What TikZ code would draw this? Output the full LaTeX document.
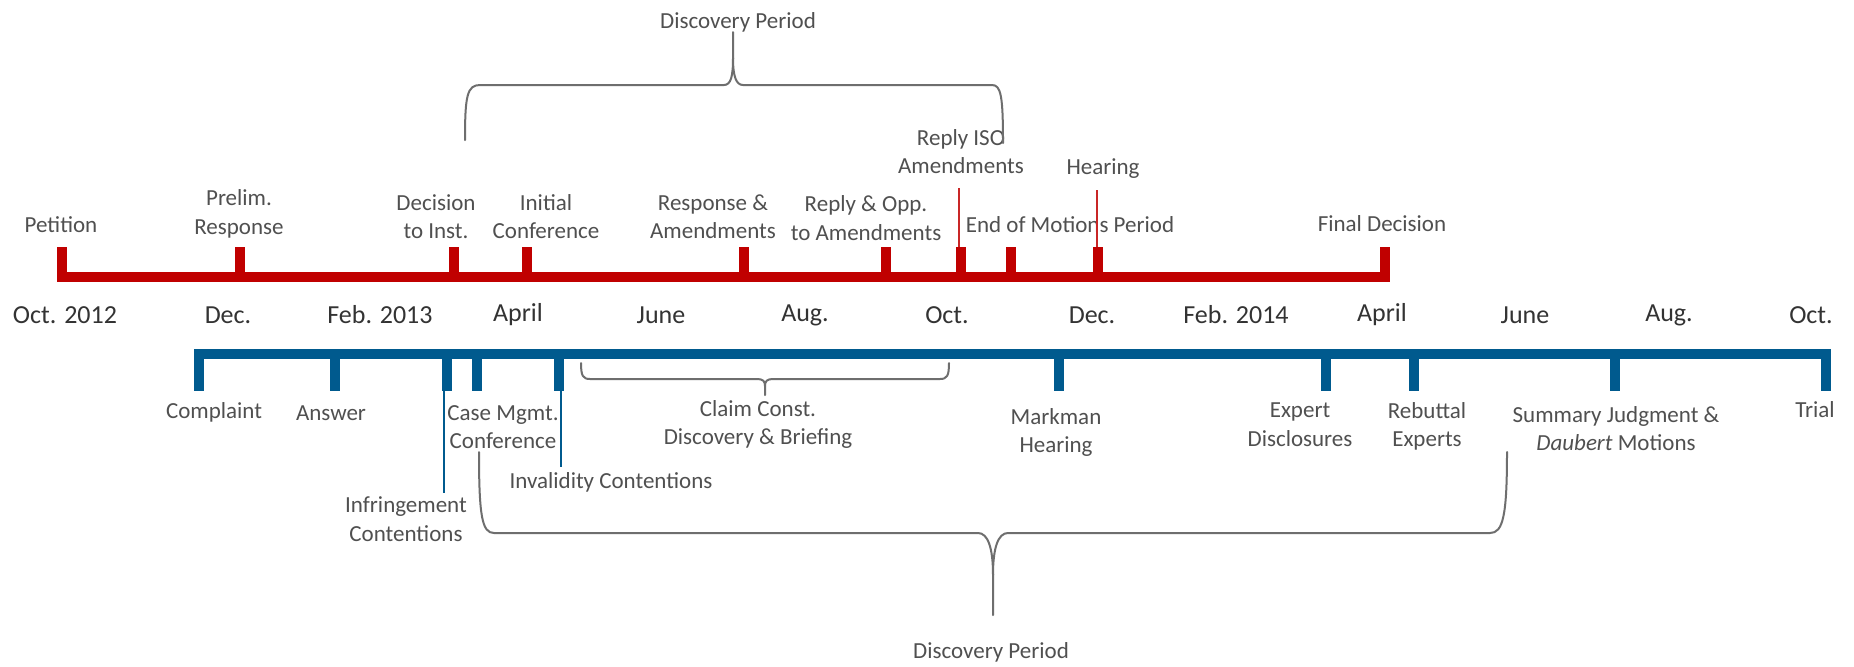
\documentclass[tikz,border=0pt]{standalone}
\usepackage{fontspec}
\setmainfont{Carlito}
\definecolor{ptabred}{HTML}{C00000}
\definecolor{courtblue}{HTML}{005A8E}
\definecolor{labelgray}{HTML}{505050}
\definecolor{monthgray}{HTML}{333333}
\definecolor{bracegray}{HTML}{6E6E6E}
\begin{document}
\begin{tikzpicture}[x=0.5pt,y=-0.5pt,
  evt/.style={font=\fontsize{11.5}{14.2}\selectfont, text=labelgray, align=center, inner sep=0pt},
  month/.style={font=\fontsize{13}{15}\selectfont, text=monthgray, inner sep=0pt},
  redbar/.style={draw=ptabred, line width=5pt},
  bluebar/.style={draw=courtblue, line width=5pt},
  redlead/.style={draw=ptabred!85!white, line width=0.6pt},
  bluelead/.style={draw=courtblue, line width=0.75pt},
  bracket/.style={draw=bracegray, line width=1pt, line cap=round, line join=round}]
\useasboundingbox (0,0) rectangle (1854,666);
\fill[white] (0,0) rectangle (1854,666);

% month scale between the two timelines
\foreach \x/\t [count=\i] in {65/Oct. 2012, 228/Dec., 380/Feb. 2013, 518/April,
    661/June, 805/Aug., 947/Oct., 1092/Dec., 1236/Feb. 2014, 1382/April,
    1525/June, 1669/Aug., 1811/Oct.}
  \node[month] (m\i) at (\x,315) {\t};

% ---- upper (red) timeline ----
\draw[redbar] (57,277) -- (1390,277);
\foreach \x in {62,240,454,527,744,886,961,1011,1098,1385}
  \draw[redbar] (\x,247) -- (\x,277);

\node[evt] (petition) at (61,225) {Petition};
\node[evt] (prelim) at (239,214) {Prelim.\\Response};
\node[evt] (decision) at (436,216.5) {Decision\\to Inst.};
\node[evt] (initial) at (546,216.5) {Initial\\Conference};
\node[evt] (response) at (713,216.5) {Response \&\\Amendments};
\node[evt] (replyopp) at (866,218) {Reply \& Opp.\\to Amendments};
\node[evt] (replyiso) at (961,151.5) {Reply ISO\\Amendments};
\node[evt] (hearing) at (1103,169) {Hearing};
\node[evt] (endmot) at (1070,225) {End of Motions Period};
\node[evt] (final) at (1382,224) {Final Decision};
\node[evt] (discTop) at (738,22) {Discovery Period};

\coordinate (isoTick) at (959,247);
\coordinate (isoEnd) at (959,188);
\coordinate (hearTick) at (1097,247);
\coordinate (hearEnd) at (1097,190);
\draw[redlead] (isoTick) -- (isoEnd);
\draw[redlead] (hearTick) -- (hearEnd);

% upper discovery brace
\draw[bracket] (465,140) .. controls (465,96) and (467,85) .. (480,85)
  -- (724,85) .. controls (731,85) and (733,76) .. (733,58) -- (733,32);
\draw[bracket] (733,58) .. controls (733,76) and (736,85) .. (743,85)
  -- (992,85) .. controls (1001,85) and (1003,96) .. (1003,143);

% ---- lower (blue) timeline ----
\draw[bluebar] (194,354) -- (1831,354);
\foreach \x in {199,335,447,477,559,1059,1326,1414,1615,1826}
  \draw[bluebar] (\x,354) -- (\x,391);

\node[evt] (complaint) at (214,412) {Complaint};
\node[evt] (answer) at (331,413) {Answer};
\node[evt] (casemgmt) at (503,427) {Case Mgmt.\\Conference};
\node[evt] (invalid) at (611,482) {Invalidity Contentions};
\node[evt] (infring) at (406,519) {Infringement\\Contentions};
\node[evt] (claim) at (758,424.5) {Claim Const.\\Discovery \& Briefing};
\node[evt] (markman) at (1056,432.5) {Markman\\Hearing};
\node[evt] (expert) at (1300,424.5) {Expert\\Disclosures};
\node[evt] (rebuttal) at (1427,426.5) {Rebuttal\\Experts};
\node[evt] (summary) at (1616,428.5) {Summary Judgment \&\\\textit{Daubert} Motions};
\node[evt] (trial) at (1815,410) {Trial};
\node[evt] (discBot) at (991,652) {Discovery Period};

\coordinate (infTick) at (444,391);
\coordinate (infEnd) at (444,493);
\coordinate (invTick) at (561,391);
\coordinate (invEnd) at (561,467);
\draw[bluelead] (infTick) -- (infEnd);
\draw[bluelead] (invTick) -- (invEnd);

% claim construction brace
\draw[bracket] (581,363) .. controls (581,376) and (583,379) .. (590,379)
  -- (757,379) .. controls (763,379) and (765,381) .. (765,386) -- (765,395);
\draw[bracket] (765,386) .. controls (765,381) and (767,379) .. (773,379)
  -- (940,379) .. controls (947,379) and (949,376) .. (949,363);

% lower discovery brace
\draw[bracket] (479,452) .. controls (479,516) and (482,533) .. (494,533)
  -- (978,533) .. controls (988,533) and (993,548) .. (993,575) -- (993,615);
\draw[bracket] (993,575) .. controls (993,548) and (998,533) .. (1008,533)
  -- (1490,533) .. controls (1503,533) and (1507,516) .. (1507,452);
\end{tikzpicture}
\end{document}
